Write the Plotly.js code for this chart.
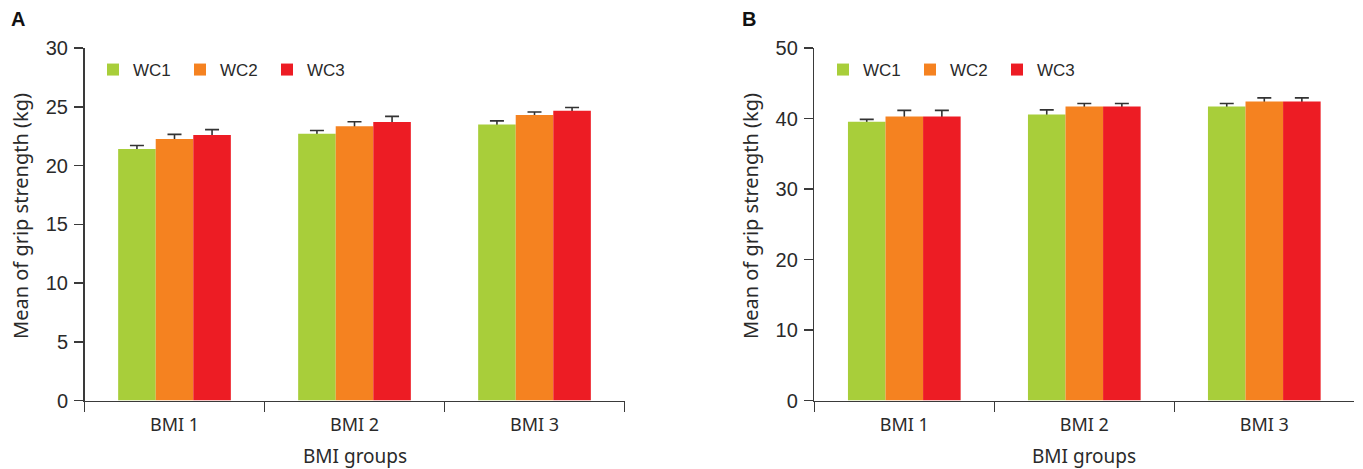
<!DOCTYPE html>
<html>
<head>
<meta charset="utf-8">
<script src="https://cdn.plot.ly/plotly-3.0.1.min.js"></script>
<style>
html,body{margin:0;padding:0;background:#fff;}
#chart{width:1363px;height:469px;}
</style>
</head>
<body>
<div id="chart"></div>
<script>
// ---- data ----
const categories = ["BMI 1", "BMI 2", "BMI 3"];
const seriesNames = ["WC1", "WC2", "WC3"];

// Panel A: mean grip strength (kg) (0-30 axis)
const aWC1 = [21.4, 22.7, 23.5];
const aWC2 = [22.25, 23.35, 24.3];
const aWC3 = [22.6, 23.7, 24.65];
const aErr1 = [0.3, 0.28, 0.3];
const aErr2 = [0.4, 0.37, 0.25];
const aErr3 = [0.45, 0.48, 0.28];

// Panel B: mean grip strength (kg) (0-50 axis)
const bWC1 = [39.55, 40.55, 41.7];
const bWC2 = [40.3, 41.7, 42.4];
const bWC3 = [40.3, 41.7, 42.4];
const bErr1 = [0.33, 0.67, 0.42];
const bErr2 = [0.85, 0.42, 0.52];
const bErr3 = [0.85, 0.42, 0.52];

const yTicksA = [0, 5, 10, 15, 20, 25, 30];
const yTicksB = [0, 10, 20, 30, 40, 50];

const colors = ["#A8CE3A", "#F58220", "#ED1C24"];

const W = 1363, H = 469;
const axisColor = "#3a3a3a";
const tickFont = {family: "Liberation Sans, Arial, sans-serif", size: 20, color: "#2a2a2a"};
const catFont = {family: "Noto Sans, sans-serif", size: 18, color: "#2a2a2a"};
const titleFont = {family: "Noto Sans, sans-serif", size: 19, color: "#2a2a2a"};
const yTitleFont = {family: "Noto Sans, sans-serif", size: 20, color: "#2a2a2a"};

// error whiskers: drawn on base subplot, symmetric, then covered below the bar top by the coloured bars
function errTrace(vals, errs, xa, ya) {
  return {
    type: "bar", x: categories, y: vals, xaxis: xa, yaxis: ya,
    showlegend: false, marker: {color: "rgba(0,0,0,0)", line: {width: 0}},
    error_y: {type: "data", symmetric: true, array: errs,
              color: "#333", thickness: 1.6, width: 7},
    hoverinfo: "skip"
  };
}
function barTrace(vals, i, xa, ya, lg) {
  return {
    type: "bar", x: categories, y: vals, name: seriesNames[i],
    xaxis: xa, yaxis: ya, legend: lg,
    marker: {color: colors[i], line: {width: 0}},
    hoverinfo: "y"
  };
}

const data = [
  errTrace(aWC1, aErr1, "x", "y"),
  errTrace(aWC2, aErr2, "x", "y"),
  errTrace(aWC3, aErr3, "x", "y"),
  errTrace(bWC1, bErr1, "x2", "y2"),
  errTrace(bWC2, bErr2, "x2", "y2"),
  errTrace(bWC3, bErr3, "x2", "y2"),
  barTrace(aWC1, 0, "x3", "y3", "legend"),
  barTrace(aWC2, 1, "x3", "y3", "legend"),
  barTrace(aWC3, 2, "x3", "y3", "legend"),
  barTrace(bWC1, 0, "x4", "y4", "legend2"),
  barTrace(bWC2, 1, "x4", "y4", "legend2"),
  barTrace(bWC3, 2, "x4", "y4", "legend2")
];

const yTop = 1 - 48 / H, yBot = 1 - 400.5 / H;
const axA = [84.5 / W, 624.5 / W];
const axB = [814.3 / W, 1354.3 / W];

function xaxis(dom, anchor) {
  return {
    domain: dom, anchor: anchor, type: "category", range: [-0.5, 2.5],
    showline: true, linecolor: axisColor, linewidth: 1.5,
    ticks: "outside", tickson: "boundaries", ticklen: 10, tickwidth: 1.5,
    tickcolor: axisColor, tickfont: catFont, showgrid: false, zeroline: false,
    ticklabelstandoff: 7, fixedrange: true
  };
}
function yaxis(range, ticks, anchor) {
  return {
    domain: [yBot, yTop], anchor: anchor, range: range,
    tickmode: "array", tickvals: ticks, ticktext: ticks.map(String),
    showline: true, linecolor: axisColor, linewidth: 1.5,
    ticks: "outside", ticklen: 9, tickwidth: 1.5, tickcolor: axisColor,
    tickfont: tickFont, showgrid: false, zeroline: false, ticklabelstandoff: 2,
    fixedrange: true
  };
}
function overlayX(base) {
  return {overlaying: base, type: "category", range: [-0.5, 2.5], visible: false,
          showgrid: false, zeroline: false, fixedrange: true};
}
function overlayY(base, range, anchor) {
  return {overlaying: base, anchor: anchor, range: range, visible: false,
          showgrid: false, zeroline: false, fixedrange: true};
}

const legendBase = {
  orientation: "h", xanchor: "left", yanchor: "middle",
  font: {family: "Liberation Sans, Arial, sans-serif", size: 17, color: "#2a2a2a"},
  bgcolor: "rgba(0,0,0,0)", itemwidth: 30, entrywidth: 42, traceorder: "normal",
  itemclick: false, itemdoubleclick: false
};

const layout = {
  width: W, height: H,
  margin: {l: 0, r: 0, t: 0, b: 0},
  paper_bgcolor: "#fff", plot_bgcolor: "#fff",
  barmode: "group", bargap: 0.374, bargroupgap: 0,
  showlegend: true,
  xaxis: xaxis(axA, "y"),
  yaxis: yaxis([0, 30], yTicksA, "x"),
  xaxis2: xaxis(axB, "y2"),
  yaxis2: yaxis([0, 50], yTicksB, "x2"),
  xaxis3: overlayX("x"),
  yaxis3: overlayY("y", [0, 30], "x3"),
  xaxis4: overlayX("x2"),
  yaxis4: overlayY("y2", [0, 50], "x4"),
  legend: Object.assign({}, legendBase, {x: 93 / W, y: 1 - 70 / H}),
  legend2: Object.assign({}, legendBase, {x: 823 / W, y: 1 - 70 / H}),
  annotations: [
    {text: "<b>A</b>", x: 9 / W, y: 1 - 19.5 / H, xref: "paper", yref: "paper",
     xanchor: "left", yanchor: "middle", showarrow: false,
     font: {family: "Liberation Sans, Arial, sans-serif", size: 20, color: "#111"}},
    {text: "<b>B</b>", x: 740 / W, y: 1 - 19.5 / H, xref: "paper", yref: "paper",
     xanchor: "left", yanchor: "middle", showarrow: false,
     font: {family: "Liberation Sans, Arial, sans-serif", size: 20, color: "#111"}},
    {text: "Mean of grip strength (kg)", x: 20 / W, y: 1 - 216 / H, xref: "paper", yref: "paper",
     xanchor: "center", yanchor: "middle", textangle: -90, showarrow: false, font: yTitleFont},
    {text: "Mean of grip strength (kg)", x: 750 / W, y: 1 - 216 / H, xref: "paper", yref: "paper",
     xanchor: "center", yanchor: "middle", textangle: -90, showarrow: false, font: yTitleFont},
    {text: "BMI groups", x: (84.5 + 624.5) / 2 / W, y: 1 - 456 / H, xref: "paper", yref: "paper",
     xanchor: "center", yanchor: "middle", showarrow: false, font: titleFont},
    {text: "BMI groups", x: (814.3 + 1354.3) / 2 / W, y: 1 - 456 / H, xref: "paper", yref: "paper",
     xanchor: "center", yanchor: "middle", showarrow: false, font: titleFont}
  ]
};

Plotly.newPlot("chart", data, layout, {displayModeBar: false, staticPlot: true});
</script>
</body>
</html>
